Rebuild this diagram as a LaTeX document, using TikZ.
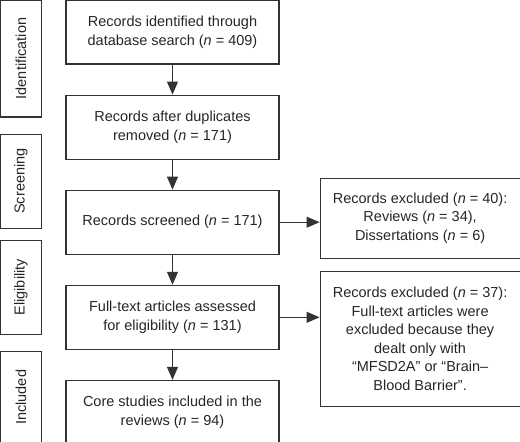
\documentclass[tikz,border=0pt]{standalone}
\usepackage{fontspec}
\setmainfont{Liberation Sans}
\usepackage{graphicx}
\usetikzlibrary{arrows.meta, positioning}

\begin{document}
\begin{tikzpicture}[x=1pt, y=1pt, node distance=30pt,
		box/.style={draw=black!80, line width=1.1pt, text=black!85, align=center, font=\fontsize{14.5}{18.5}\selectfont},
		mainbox/.style={box, minimum width=213pt, minimum height=64pt},
		side/.style={box, minimum width=41pt}]
			\useasboundingbox (0,0) rectangle (520,-442);

			\node[mainbox] (records) at (172.5,-32) {Records identified through\\database search (\textit{n} = 409)};
			\node[mainbox] (nodup) [below=of records] {Records after duplicates\\removed (\textit{n} = 171)};
			\node[mainbox] (screened) [below=of nodup] {Records screened (\textit{n} = 171)};
			\node[mainbox] (fulltext) [below=of screened] {Full-text articles assessed\\for eligibility (\textit{n} = 131)};
			\node[mainbox] (core) [below=of fulltext] {Core studies included in the\\reviews (\textit{n} = 94)};

			\node[box, minimum width=200pt, minimum height=80pt] (excla) [right=40pt of screened, yshift=4pt] {Records excluded (\textit{n} = 40):\\Reviews (\textit{n} = 34),\\Dissertations (\textit{n} = 6)};
			\node[box, minimum width=200pt, minimum height=135pt] (exclb) [right=40pt of fulltext, yshift=-21.5pt] {Records excluded (\textit{n} = 37):\\Full-text articles were\\excluded because they\\dealt only with\\“MFSD2A” or “Brain–\\Blood Barrier”.};

			\node[side, minimum height=117pt] (ident) at (21,-58.5) {\rotatebox{90}{Identification}};
			\node[side, minimum height=94pt] (screen) [below=16pt of ident] {\rotatebox{90}{Screening}};
			\node[side, minimum height=94pt] (elig) [below=11pt of screen] {\rotatebox{90}{Eligibility}};
			\node[side, minimum height=92pt] (incl) [below=16pt of elig] {\rotatebox{90}{Included}};

			\path[-{Triangle[length=13pt, width=11pt]}, color=black!80, line width=1.1pt]
			(records) edge (nodup)
			(nodup) edge (screened)
			(screened) edge (fulltext)
			(fulltext) edge (core)
			(screened.east) edge (screened.east -| excla.west)
			(fulltext.east) edge (fulltext.east -| exclb.west);
		\end{tikzpicture}
\end{document}
